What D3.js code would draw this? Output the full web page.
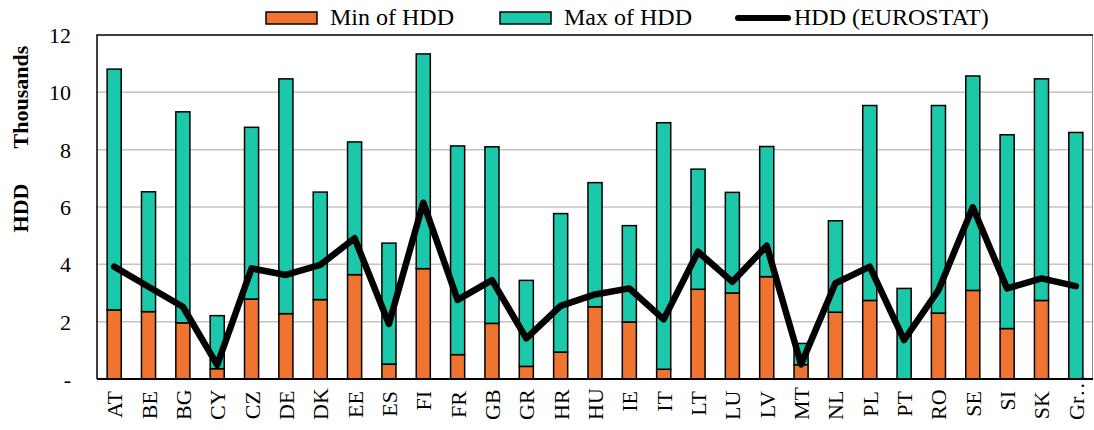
<!DOCTYPE html>
<html>
<head>
<meta charset="utf-8">
<script src="https://cdn.jsdelivr.net/npm/d3@7"></script>
<style>
  html, body { margin: 0; padding: 0; background: #fff; }
  svg { display: block; font-family: "Liberation Serif", "Times New Roman", serif; }
</style>
</head>
<body>
<svg id="chart" width="1094" height="430"></svg>
<script>
// Heating degree days per country (HDD units)
const countries = ["AT","BE","BG","CY","CZ","DE","DK","EE","ES","FI","FR","GB","GR","HR","HU","IE","IT","LT","LU","LV","MT","NL","PL","PT","RO","SE","SI","SK","Gr\u2026"];
const minHDD = [2410,2350,1960,360,2790,2280,2770,3640,520,3850,850,1940,440,940,2520,1990,340,3130,3000,3570,500,2330,2740,0,2300,3090,1760,2740,0];
const maxHDD = [8400,4180,7360,1850,5990,8190,3750,4630,4220,7490,7280,6160,3000,4830,4330,3360,8600,4190,3510,4540,740,3190,6800,3160,7240,7480,6760,7730,8600];
const eurostatHDD = [3920,3220,2520,490,3860,3630,3980,4910,1920,6150,2760,3450,1420,2550,2950,3160,2080,4440,3390,4650,510,3340,3920,1360,3100,5990,3160,3510,3240];
const yTicks = [0,2000,4000,6000,8000,10000,12000];

const seriesNames = ["Min of HDD", "Max of HDD"];
const seriesColors = ["#ef7430", "#1cc8aa"];

const svg = d3.select("#chart");
const plot = { left: 97, right: 1093, top: 35, bottom: 379 };

const x = d3.scaleBand()
  .domain(countries)
  .range([plot.left, plot.right])
  .paddingInner(0.59)
  .paddingOuter(0.295);

const y = d3.scaleLinear()
  .domain([0, 12000])
  .range([plot.bottom, plot.top]);

// Gridlines
svg.append("g")
  .selectAll("line")
  .data(yTicks.filter(t => t > 0 && t < 12000))
  .join("line")
  .attr("x1", plot.left).attr("x2", plot.right)
  .attr("y1", d => y(d)).attr("y2", d => y(d))
  .attr("stroke", "#c4c4c4")
  .attr("stroke-width", 1.5);

// Plot frame: dark left and top edges, light right edge
svg.append("line")
  .attr("x1", plot.right - 0.5).attr("x2", plot.right - 0.5)
  .attr("y1", plot.top).attr("y2", plot.bottom)
  .attr("stroke", "#8c8c8c").attr("stroke-width", 1);
svg.append("path")
  .attr("d", `M${plot.left},${plot.bottom}V${plot.top}H${plot.right}`)
  .attr("fill", "none")
  .attr("stroke", "#000")
  .attr("stroke-width", 1.5);

// Stacked bars
const rows = countries.map((c, i) => ({ country: c, min: minHDD[i], max: maxHDD[i] }));
const stack = d3.stack().keys(["min", "max"]);
const layers = stack(rows);

svg.append("g")
  .selectAll("g")
  .data(layers)
  .join("g")
  .attr("fill", (d, i) => seriesColors[i])
  .selectAll("rect")
  .data(d => d.filter(s => s[1] - s[0] > 0))
  .join("rect")
  .attr("x", d => x(d.data.country))
  .attr("width", x.bandwidth())
  .attr("y", d => y(d[1]))
  .attr("height", d => y(d[0]) - y(d[1]))
  .attr("stroke", "#000")
  .attr("stroke-width", 1.5);

// Bottom axis line
svg.append("line")
  .attr("x1", plot.left).attr("x2", plot.right)
  .attr("y1", plot.bottom).attr("y2", plot.bottom)
  .attr("stroke", "#000").attr("stroke-width", 2);

// EUROSTAT HDD line
const line = d3.line()
  .x((d, i) => x(countries[i]) + x.bandwidth() / 2)
  .y(d => y(d));

svg.append("path")
  .datum(eurostatHDD)
  .attr("d", line)
  .attr("fill", "none")
  .attr("stroke", "#000")
  .attr("stroke-width", 6.5)
  .attr("stroke-linejoin", "round")
  .attr("stroke-linecap", "round");

// Y axis labels
const yAxis = d3.axisLeft(y)
  .tickValues(yTicks)
  .tickSize(0)
  .tickPadding(0)
  .tickFormat(d => d === 0 ? "-" : d3.format("d")(d / 1000));

svg.append("g")
  .attr("transform", "translate(71,0)")
  .call(yAxis)
  .call(g => g.select(".domain").remove())
  .selectAll("text")
  .attr("font-family", "Liberation Serif, Times New Roman, serif")
  .attr("font-size", 22)
  .attr("fill", "#000")
  .attr("dy", "0.34em");

// X axis labels (rotated); a label too long for the space below the axis
// is pinned to the bottom edge and runs up over the axis
const labelTop = 391, labelFloor = 420;
svg.append("g")
  .selectAll("text")
  .data(countries)
  .join("text")
  .attr("font-size", 22)
  .attr("fill", "#000")
  .text(d => d)
  .each(function (d) {
    const len = this.getComputedTextLength();
    const cx = x(d) + x.bandwidth() / 2 + 8;
    const yEnd = Math.min(labelTop, labelFloor - len);
    d3.select(this)
      .attr("text-anchor", "end")
      .attr("transform", `translate(${cx},${yEnd}) rotate(-90)`);
  });

// Y axis titles
svg.append("text")
  .attr("transform", "translate(28,97) rotate(-90)")
  .attr("text-anchor", "middle")
  .attr("font-size", 22)
  .attr("font-weight", "bold")
  .text("Thousands");

svg.append("text")
  .attr("transform", "translate(28,208) rotate(-90)")
  .attr("text-anchor", "middle")
  .attr("font-size", 22)
  .attr("font-weight", "bold")
  .text("HDD");

// Legend
const legend = svg.append("g").attr("font-size", 24);
const swatchX = [266, 500];
seriesNames.forEach((name, i) => {
  legend.append("rect")
    .attr("x", swatchX[i]).attr("y", 12)
    .attr("width", 51).attr("height", 12)
    .attr("fill", seriesColors[i])
    .attr("stroke", "#000").attr("stroke-width", 1.5);
  legend.append("text")
    .attr("x", swatchX[i] + 64).attr("y", 25)
    .text(name);
});
legend.append("line")
  .attr("x1", 738).attr("x2", 788)
  .attr("y1", 18).attr("y2", 18)
  .attr("stroke", "#000").attr("stroke-width", 6)
  .attr("stroke-linecap", "round");
legend.append("text")
  .attr("x", 794).attr("y", 25)
  .text("HDD (EUROSTAT)");
</script>
</body>
</html>
